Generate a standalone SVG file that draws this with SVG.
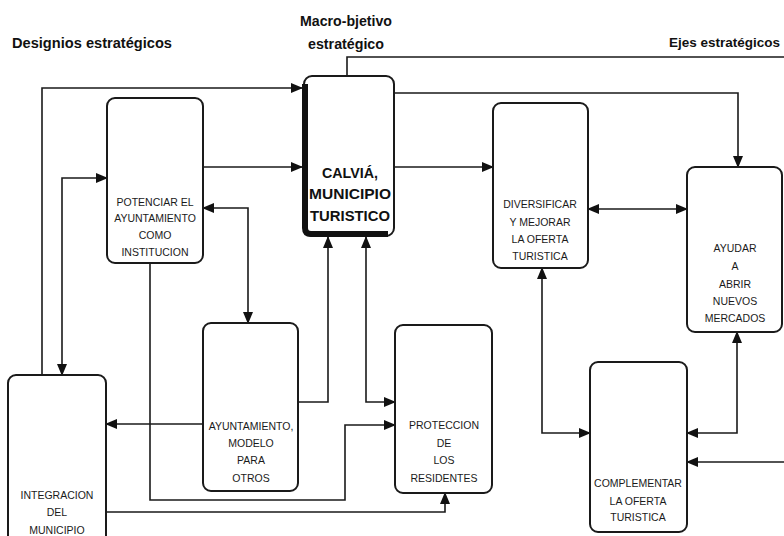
<svg xmlns="http://www.w3.org/2000/svg" width="784" height="536" viewBox="0 0 784 536">
<style>
.box{fill:#fff;stroke:#1a1a1a;stroke-width:2}
.t{font-family:"Liberation Sans",Arial,sans-serif;font-size:10.5px;fill:#1a1a1a;text-anchor:middle;dominant-baseline:central}
.big{font-family:"Liberation Sans",Arial,sans-serif;font-size:15px;font-weight:bold;fill:#111;text-anchor:middle;dominant-baseline:central}
.hd{font-family:"Liberation Sans",Arial,sans-serif;font-size:15px;font-weight:bold;fill:#111;dominant-baseline:central}
.c{fill:none;stroke:#1a1a1a;stroke-width:1.6}
</style>
<defs>
<marker id="a" markerUnits="userSpaceOnUse" markerWidth="12" markerHeight="10" refX="11" refY="5" orient="auto-start-reverse">
<path d="M0,0 L12,5 L0,10 Z" fill="#111"/>
</marker>
</defs>
<rect width="784" height="536" fill="#fff"/>
<g id="headers">
<text class="hd" x="12" y="42" textLength="160" lengthAdjust="spacingAndGlyphs">Designios estratégicos</text>
<text class="big" x="346" y="20" textLength="92" lengthAdjust="spacingAndGlyphs">Macro-bjetivo</text>
<text class="big" x="346" y="43" textLength="76" lengthAdjust="spacingAndGlyphs">estratégico</text>
<text class="hd" x="780" y="42" style="font-size:13.5px;text-anchor:end">Ejes estratégicos</text>
</g>
<g id="connectors">
<path class="c" d="M42,375 V88 H302" marker-end="url(#a)"/>
<path class="c" d="M62,375 V178 H107" marker-start="url(#a)" marker-end="url(#a)"/>
<path class="c" d="M203,167 H302" marker-end="url(#a)"/>
<path class="c" d="M203,208 H248 V323" marker-start="url(#a)" marker-end="url(#a)"/>
<path class="c" d="M150,263 V500 H345 V425 H395" marker-end="url(#a)"/>
<path class="c" d="M106,512 H445 V493" marker-end="url(#a)"/>
<path class="c" d="M203,424 H106" marker-end="url(#a)"/>
<path class="c" d="M298,402 H328 V237" marker-end="url(#a)"/>
<path class="c" d="M366,237 V402 H395" marker-start="url(#a)" marker-end="url(#a)"/>
<path class="c" d="M395,167 H493" marker-end="url(#a)"/>
<path class="c" d="M395,93 H738 V167" marker-end="url(#a)"/>
<path class="c" d="M588,209 H687" marker-start="url(#a)" marker-end="url(#a)"/>
<path class="c" d="M542,268 V433 H590" marker-start="url(#a)" marker-end="url(#a)"/>
<path class="c" d="M737,332 V433 H687" marker-start="url(#a)" marker-end="url(#a)"/>
<path class="c" d="M784,462 H687" marker-end="url(#a)"/>
<path class="c" d="M347,76 V57 H784"/>
</g>
<g id="potenciar">
<rect class="box" x="107" y="98" width="96" height="165" rx="8"/>
<text class="t" x="155" y="202">POTENCIAR EL</text>
<text class="t" x="155" y="218">AYUNTAMIENTO</text>
<text class="t" x="155" y="235">COMO</text>
<text class="t" x="155" y="252">INSTITUCION</text>
</g>
<g id="calvia">
<rect class="box" x="304" y="76" width="90" height="160" rx="8"/>
<path d="M305,84 V228 Q305,234 311,234 H388" fill="none" stroke="#111" stroke-width="6"/>
<text class="big" x="350" y="172" textLength="56" lengthAdjust="spacingAndGlyphs">CALVIÁ,</text>
<text class="big" x="350" y="193" textLength="82" lengthAdjust="spacingAndGlyphs">MUNICIPIO</text>
<text class="big" x="350" y="215" textLength="80" lengthAdjust="spacingAndGlyphs">TURISTICO</text>
</g>
<g id="diversificar">
<rect class="box" x="493" y="103" width="95" height="165" rx="8"/>
<text class="t" x="540" y="204">DIVERSIFICAR</text>
<text class="t" x="540" y="222">Y MEJORAR</text>
<text class="t" x="540" y="239">LA OFERTA</text>
<text class="t" x="540" y="256">TURISTICA</text>
</g>
<g id="ayudar">
<rect class="box" x="687" y="167" width="95" height="165" rx="8"/>
<text class="t" x="735" y="248">AYUDAR</text>
<text class="t" x="735" y="266">A</text>
<text class="t" x="735" y="284">ABRIR</text>
<text class="t" x="735" y="301">NUEVOS</text>
<text class="t" x="735" y="318">MERCADOS</text>
</g>
<g id="ayuntamiento">
<rect class="box" x="203" y="323" width="95" height="168" rx="8"/>
<text class="t" x="251" y="426">AYUNTAMIENTO,</text>
<text class="t" x="251" y="443">MODELO</text>
<text class="t" x="251" y="460">PARA</text>
<text class="t" x="251" y="478">OTROS</text>
</g>
<g id="proteccion">
<rect class="box" x="395" y="325" width="97" height="168" rx="8"/>
<text class="t" x="444" y="425">PROTECCION</text>
<text class="t" x="444" y="443">DE</text>
<text class="t" x="444" y="460">LOS</text>
<text class="t" x="444" y="478">RESIDENTES</text>
</g>
<g id="integracion">
<rect class="box" x="8" y="375" width="98" height="180" rx="8"/>
<text class="t" x="57" y="495">INTEGRACION</text>
<text class="t" x="57" y="512">DEL</text>
<text class="t" x="57" y="530">MUNICIPIO</text>
</g>
<g id="complementar">
<rect class="box" x="590" y="362" width="97" height="170" rx="8"/>
<text class="t" x="638" y="483">COMPLEMENTAR</text>
<text class="t" x="638" y="501">LA OFERTA</text>
<text class="t" x="638" y="517">TURISTICA</text>
</g>
</svg>
